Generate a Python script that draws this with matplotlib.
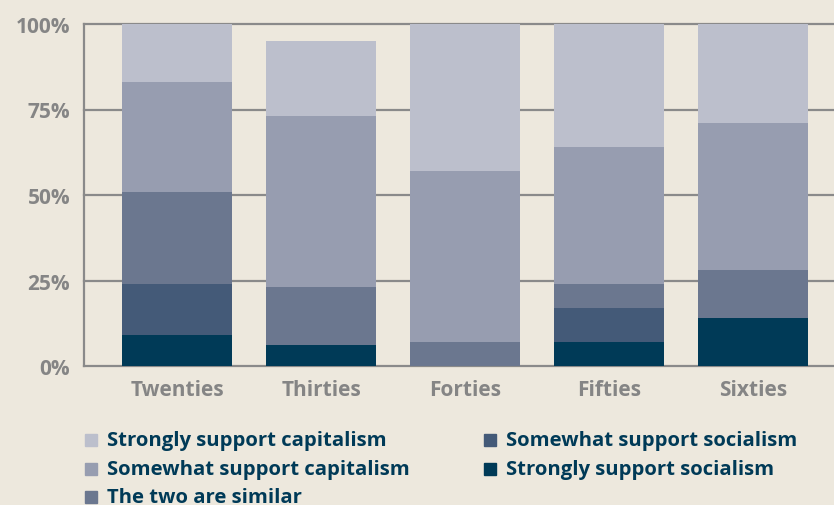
import numpy as np
import matplotlib
matplotlib.use('Agg')

import matplotlib.pyplot as plt
from matplotlib.patches import Rectangle

decades = ['Twenties', 'Thirties', 'Forties', 'Fifties', 'Sixties']

strong_soc = [9, 6, 0, 7, 14]
somewhat_soc = [15, 0, 0, 10, 0]
similar = [27, 17, 7, 7, 14]
somewhat_cap = [32, 50, 50, 40, 43]
strong_cap = [17, 22, 43, 36, 29]

series = [
    ('Strongly support socialism', strong_soc, '#003a57'),
    ('Somewhat support socialism', somewhat_soc, '#445a78'),
    ('The two are similar', similar, '#6b778f'),
    ('Somewhat support capitalism', somewhat_cap, '#979db0'),
    ('Strongly support capitalism', strong_cap, '#bcbfcc'),
]

bg = '#ede8dd'
grid = '#8a8a8a'
label_col = '#858585'
text_col = '#003a57'

plt.rcParams['font.family'] = ['Open Sans', 'DejaVu Sans']

W, H = 834, 506
fig = plt.figure(figsize=(W / 100, H / 100), dpi=100, facecolor=bg)
ax = fig.add_axes([84 / W, 1 - 367 / H, 1 - 84 / W, 342 / H])
ax.set_facecolor(bg)

x = np.arange(len(decades))
bottom = np.zeros(len(decades))
for name, vals, col in series:
    ax.bar(x, vals, bottom=bottom, width=0.764, color=col, zorder=2)
    bottom += np.array(vals)

for y in [0, 25, 50, 75, 100]:
    ax.axhline(y, color=grid, lw=1.6, zorder=1, clip_on=False)

ax.set_xlim(-0.646, 4.56)
ax.set_ylim(0, 100)
for s in ['top', 'right', 'bottom']:
    ax.spines[s].set_visible(False)
ax.spines['left'].set_color(grid)
ax.spines['left'].set_linewidth(1.6)

ax.set_yticks([0, 25, 50, 75, 100])
ax.set_yticklabels(['0%', '25%', '50%', '75%', '100%'])
ax.set_xticks(x)
ax.set_xticklabels(decades)
ax.tick_params(axis='both', length=0, colors=label_col, labelsize=15)
ax.tick_params(axis='y', pad=10)
ax.tick_params(axis='x', pad=9)
for t in ax.get_xticklabels() + ax.get_yticklabels():
    t.set_fontweight('bold')

# legend laid out in two columns below the plot
order = [4, 3, 2, 1, 0]
slots = [(85, 441), (85, 470), (85, 498), (484, 441), (484, 470)]
for i, (px, py) in zip(order, slots):
    name, _, col = series[i]
    fig.patches.append(Rectangle((px / W, 1 - (py + 6) / H), 12 / W, 12 / H,
                                 color=col, transform=fig.transFigure))
    fig.text((px + 22) / W, 1 - py / H, name, color=text_col, fontsize=14.6,
             fontweight='bold', va='center', ha='left')

plt.savefig('out.png', facecolor=bg)
